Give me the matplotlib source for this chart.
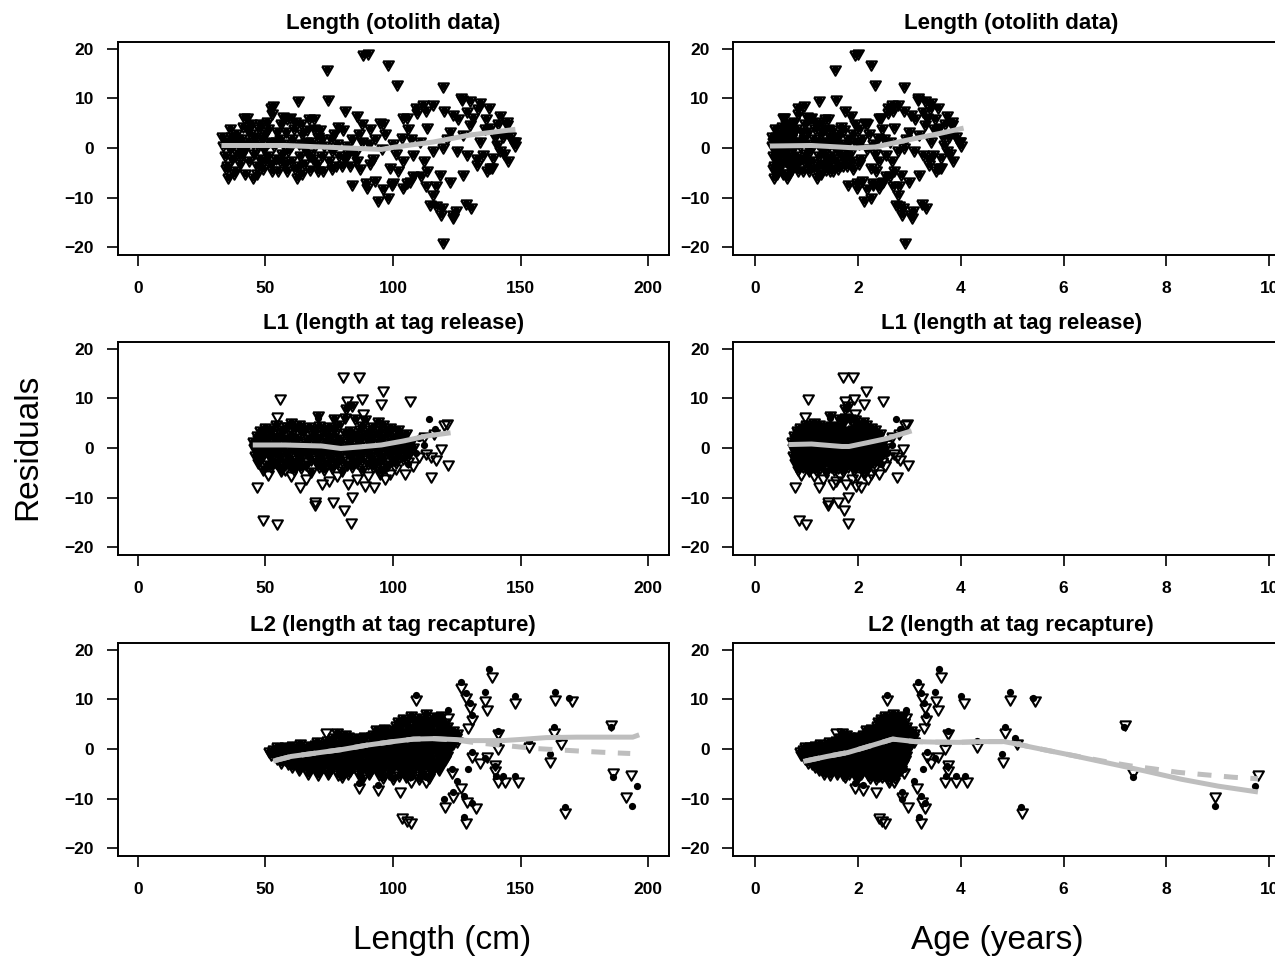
import matplotlib
matplotlib.use("Agg")
import matplotlib.pyplot as plt

plt.rcParams['font.family'] = ['Liberation Sans', 'DejaVu Sans']

# ---------------- row 1 : length (otolith data) ----------------
oto_len = [33, 33.5, 34, 34.5, 35, 35.4, 36, 36.5, 37, 37.5,
           38, 38.5, 39, 39.5, 40, 40.5, 41, 41.5, 41.7, 42,
           42.6, 43, 43.5, 44, 44.5, 45.2, 45.5, 46, 46.5, 47,
           47.5, 48, 48.5, 49, 49.5, 50, 50.5, 51, 51.5, 52,
           52.3, 52.5, 53, 53.5, 54, 54.5, 55, 55.5, 56, 56.5,
           57, 57.5, 58, 58.5, 59, 59.6, 60, 60.5, 61, 61.5,
           62.2, 62.9, 63, 63.5, 64, 64.5, 65, 65.5, 66.1, 66.5,
           67, 67.5, 68, 68.5, 69, 69.5, 70, 70.5, 71.4, 72,
           72.7, 73, 74, 74.6, 75, 75.5, 76, 77, 77.5, 78,
           79, 80.5, 81.2, 81, 82, 83, 83.8, 84, 85, 85.8,
           86.5, 87, 88, 88.4, 89.6, 89.7, 90, 90.5, 91, 92,
           93, 94, 94.9, 95.5, 96, 97, 98.2, 98.2, 98.8, 99.5,
           99.8, 100, 101.4, 102, 103.4, 104, 104, 104, 105.4, 105.6,
           106.7, 107, 108, 108, 109.2, 109.3, 110.6, 111.9, 112, 112.9,
           113, 113.2, 113.2, 114.5, 115.8, 115.8, 115.8, 117, 117, 118.4,
           118.7, 119.1, 119.7, 119.7, 119.7, 120, 121, 122.4, 122.4, 123.6,
           123.6, 123.7, 124.5, 125, 126.7, 126.9, 127.6, 127.6, 128.8, 128.9,
           130.2, 130.3, 130.5, 131.5, 132.8, 133.5, 134.1, 134.1, 135.4, 136,
           137, 137.5, 138, 138, 139, 139.3, 140.7, 141, 142, 142,
           143, 144.6, 144.8, 145, 146, 147.2, 147.7, 148]
oto_res = [2.5, 0.5, -1.5, 1.5, -3.5, -5.9, 0, 2.5, -2, 1,
           -4.5, 3, -1, 0.5, -3, 2, 4.5, -0.5, 6.3, -5,
           6.2, 1.5, -2.5, 3, 5, -5.9, -1, 2.5, -3.5, 0.5,
           4, -2, 2, -4, 0, 3, 5.5, -1.5, 1.5, -3,
           8.3, 7, 8.6, 0.5, -2, 3.5, -4.5, 2, 5, -1,
           1, -3, 3.5, 6, -0.5, 6.2, -2.5, 2, 4, -4,
           -5.9, 9.6, 1, -1.5, 5, 3, -3, 0, 3.9, -1,
           6, -4.2, 1.5, -2, 4, 0.5, -3, 2.5, 3.9, -1.5,
           -4.5, 0.5, 16, 9.9, -2.5, 2, -0.5, 3, -3.5, 1,
           -1.5, 3.9, 7.6, -2, 0.5, -3.5, -7.2, 2, -1, 6.6,
           3, -4, 5, 19, -6.9, -7.9, 19.2, 1, 4, -2,
           -6.5, -10.6, 5.2, 0, -8, 3, 17, -9.9, -3.9, -7.2,
           -6.9, 1, 12.9, -4.5, 2.2, 6.2, -7.9, -2.5, 6.2, -6.9,
           -6.6, 2, -1.2, -5.5, 8.3, 7.2, 1.5, 8.9, -2.5, 7.6,
           -7.5, -4.5, 4.2, -11.3, 8.9, -0.5, -9.2, -11.6, -7.5, -5.2,
           -13.3, -11.9, 12.6, 0.2, -19, 7.6, 2, -6.6, 3.5, 6.9,
           -13.3, -13.9, -12.6, -0.5, 10.3, 9.9, 2.9, -5.2, -11.2, -1.2,
           4.9, 9.6, -12, 6.2, -3.2, 8, 9.2, 1.5, -1.2, 4,
           -4.5, 8.3, 4.2, -3.9, -3.8, -1.9, 0.8, 5, 6.6, -0.5,
           2.5, 5.5, 4.9, -2.5, 2.5, 1.5, 1.5, 0.5]
oto_age = [0.33, 0.34, 0.35, 0.36, 0.37, 0.38, 0.40, 0.41, 0.42, 0.44,
           0.45, 0.46, 0.47, 0.49, 0.50, 0.51, 0.52, 0.54, 0.54, 0.55,
           0.56, 0.57, 0.58, 0.60, 0.61, 0.63, 0.63, 0.65, 0.66, 0.67,
           0.69, 0.70, 0.71, 0.72, 0.74, 0.75, 0.77, 0.79, 0.80, 0.82,
           0.83, 0.84, 0.95, 0.88, 0.89, 0.91, 0.93, 0.95, 0.97, 0.99,
           1.01, 1.03, 1.04, 1.06, 1.08, 1.10, 1.12, 1.14, 1.16, 1.17,
           1.20, 1.24, 1.23, 1.25, 1.26, 1.28, 1.30, 1.32, 1.33, 1.35,
           1.36, 1.38, 1.39, 1.41, 1.42, 1.44, 1.45, 1.46, 1.49, 1.50,
           1.52, 1.53, 1.55, 1.57, 1.58, 1.59, 1.61, 1.64, 1.65, 1.66,
           1.69, 1.73, 1.75, 1.75, 1.77, 1.80, 1.82, 1.82, 1.85, 1.87,
           1.90, 1.91, 1.94, 1.95, 1.99, 1.99, 2.00, 2.02, 2.03, 2.06,
           2.09, 2.12, 2.15, 2.17, 2.18, 2.21, 2.25, 2.25, 2.26, 2.29,
           2.29, 2.30, 2.34, 2.36, 2.40, 2.42, 2.42, 2.42, 2.46, 2.47,
           2.50, 2.51, 2.54, 2.54, 2.58, 2.58, 2.62, 2.66, 2.66, 2.69,
           2.69, 2.70, 2.70, 2.74, 2.78, 2.78, 2.78, 2.81, 2.81, 2.85,
           2.86, 2.87, 2.89, 2.89, 2.92, 2.90, 2.94, 3.00, 3.00, 3.04,
           3.04, 3.05, 3.08, 3.10, 3.17, 3.18, 3.20, 3.20, 3.25, 3.26,
           3.31, 3.31, 3.32, 3.35, 3.38, 3.41, 3.42, 3.42, 3.47, 3.49,
           3.53, 3.55, 3.57, 3.57, 3.61, 3.62, 3.68, 3.69, 3.73, 3.73,
           3.77, 3.83, 3.84, 3.85, 3.90, 3.96, 3.98, 4.00]
# more fish inside the dense band
oto_fill_len = [34.5, 36, 37.5, 39, 40.5, 42, 43.5, 45, 46.5, 48,
                49.5, 51, 52.5, 54, 55.5, 57, 58.5, 60, 61.5, 63,
                64.5, 66, 67.5, 69, 70.5, 72, 76, 78.5, 80, 82.5,
                86, 88, 91, 93, 96, 101, 106, 111, 125.5, 129,
                133, 136.5, 140, 143.5]
oto_fill_res = [-4, 4, -5, 2, -1.5, 0.5, 4, 1, -5, 5,
                -2.5, 4, -4.5, 1.5, -2.5, 6.5, -4.5, 0.5, 5.5, -3.5,
                -5, 1.5, -1.5, 6, -4.5, 2, -4, 4.5, -3.5, -1,
                -2.5, 1.5, -3, 2, 5, -1, 4, -5.5, 6, 7.5,
                -2, 6, 2.5, -1]
oto_fill_age = [0.36, 0.40, 0.44, 0.47, 0.51, 0.55, 0.58, 0.62, 0.66, 0.70,
                0.74, 0.79, 0.84, 0.89, 0.95, 1.01, 1.06, 1.12, 1.17, 1.23,
                1.28, 1.33, 1.38, 1.42, 1.46, 1.50, 1.61, 1.68, 1.72, 1.78,
                1.88, 1.94, 2.03, 2.09, 2.18, 2.33, 2.48, 2.63, 3.12, 3.26,
                3.39, 3.51, 3.65, 3.79]

oto_fit_len = [33.7, 45, 57.7, 72, 86.7, 95.4, 101, 115.8, 130, 147]
oto_fit_len_res = [0.5, 0.5, 0.5, 0.2, -0.1, -0.3, 0.2, 1.2, 2.6, 3.7]
oto_fit_age = [0.34, 1.1, 1.98, 2.34, 2.92, 3.58, 4.01]
oto_fit_age_res = [0.4, 0.5, 0.0, 0.2, 1.5, 2.9, 3.9]

# ---------------- row 2 : L1 (length at tag release) ----------------
l1_core_len = [50, 54, 58.5, 63, 67, 71, 75, 79, 88, 92, 96, 99,
               70.5, 77, 81, 85, 89, 94, 81.5, 84, 60, 102,
               46.5, 49, 52.5, 56, 60, 64.5, 68.5, 73, 77, 81, 85, 89.5, 93.5, 97.5, 101.5, 105,
               45, 48, 51, 54.5, 58, 62, 66, 70, 74, 78, 82.5, 86.5, 90.5, 94.5, 98.5, 103, 107,
               45.5, 49.5, 53, 56.5, 60.5, 64, 68, 72, 76, 80, 84, 88, 92, 96, 100, 104, 108,
               46, 48.5, 52, 55.5, 59, 63, 67, 71, 75, 79, 83, 87, 91, 95, 99, 102.5, 106,
               47, 50.5, 54, 58, 62, 66, 70, 74, 78, 82, 86, 90, 94, 98, 101,
               49, 56, 61, 68, 73, 80, 88, 95]
l1_core_res = [4.3, 4.8, 4.4, 4.9, 4.5, 4.6, 4.4, 4.8, 4.7, 4.4, 4.9, 4.2,
               6.6, 6.0, 6.3, 6.1, 5.8, 5.5, 8.0, 8.6, 5.3, 3.8,
               2.7, 3.2, 2.9, 3.1, 2.8, 3.2, 2.9, 3.1, 2.8, 3.2, 2.9, 3.1, 2.8, 3.2, 2.9, 3.1,
               1.4, 1.7, 1.3, 1.6, 1.4, 1.7, 1.3, 1.6, 1.4, 1.7, 1.3, 1.6, 1.4, 1.7, 1.3, 1.6, 1.4,
               0.1, -0.2, 0.2, -0.1, 0.2, -0.2, 0.1, -0.2, 0.2, -0.1, 0.1, -0.2, 0.2, -0.1, 0.2, -0.1, 0.1,
               -1.4, -1.7, -1.3, -1.6, -1.4, -1.7, -1.3, -1.6, -1.4, -1.7, -1.3, -1.6, -1.4, -1.7, -1.3, -1.6, -1.4,
               -2.9, -3.2, -2.8, -3.1, -2.9, -3.2, -2.8, -3.1, -2.9, -3.2, -2.8, -3.1, -2.9, -3.2, -2.8,
               -4.2, -4.5, -4.3, -4.6, -4.2, -4.5, -4.3, -4.4]
l1_core_age = [0.87, 0.99, 1.11, 1.24, 1.36, 1.48, 1.58, 1.69, 1.95, 2.04, 2.16, 2.25,
               1.46, 1.64, 1.75, 1.85, 1.95, 2.10, 1.76, 1.82, 1.15, 2.34,
               0.77, 0.84, 0.95, 1.05, 1.15, 1.29, 1.41, 1.53, 1.64, 1.75, 1.85, 1.97, 2.09, 2.21, 2.33, 2.43,
               0.72, 0.81, 0.90, 1.00, 1.10, 1.21, 1.33, 1.45, 1.55, 1.66, 1.79, 1.89, 2.00, 2.12, 2.24, 2.37, 2.50,
               0.74, 0.86, 0.96, 1.06, 1.17, 1.27, 1.39, 1.50, 1.61, 1.72, 1.82, 1.93, 2.04, 2.16, 2.28, 2.40, 2.53,
               0.75, 0.83, 0.93, 1.03, 1.12, 1.24, 1.36, 1.48, 1.58, 1.69, 1.80, 1.90, 2.01, 2.13, 2.25, 2.36, 2.46,
               0.78, 0.89, 0.99, 1.10, 1.21, 1.33, 1.45, 1.55, 1.66, 1.77, 1.88, 1.98, 2.10, 2.22, 2.31,
               0.84, 1.05, 1.18, 1.39, 1.53, 1.72, 1.93, 2.13]
l1_fill_len = [48, 52, 56.5, 61, 65, 69, 73, 77, 83, 87, 91, 95, 99,
               47, 50.5, 54, 58, 62, 66.5, 70.5, 75, 79, 83, 87.5, 91.5, 95.5, 99.5, 103.5,
               47.5, 51, 55, 58.5, 62.5, 66.5, 70, 74, 78, 82, 86, 90, 94, 98, 102, 106,
               47, 51, 55, 58.5, 62, 66, 70, 74, 78, 82, 86, 90, 94, 98, 102, 106,
               48, 52, 56, 60, 64, 68, 72, 76, 80, 84, 88, 92, 96, 100, 104,
               52, 56, 60, 64, 71, 76, 84, 92, 97]
l1_fill_res = [3.7, 3.9, 3.8, 4.0, 3.7, 3.9, 3.8, 4.0, 3.7, 3.9, 3.8, 3.6, 3.7,
               2.1, 2.3, 2.2, 2.0, 2.3, 2.1, 2.2, 2.4, 2.1, 2.3, 2.2, 2.0, 2.3, 2.1, 2.2,
               0.8, 0.7, 0.9, 0.8, 0.6, 0.9, 0.7, 0.8, 0.9, 0.7, 0.8, 0.6, 0.9, 0.8, 0.7, 0.9,
               -0.7, -0.8, -0.6, -0.9, -0.7, -0.8, -0.6, -0.7, -0.9, -0.7, -0.8, -0.6, -0.7, -0.8, -0.6, -0.7,
               -2.2, -2.1, -2.3, -2.2, -2.0, -2.3, -2.1, -2.2, -2.4, -2.1, -2.2, -2.3, -2.1, -2.2, -2.0,
               -3.6, -3.8, -3.7, -3.9, -3.6, -3.8, -3.7, -3.6, -3.8]
l1_fill_age = [0.81, 0.93, 1.06, 1.18, 1.30, 1.42, 1.53, 1.64, 1.80, 1.90, 2.01, 2.13, 2.25,
               0.78, 0.89, 0.99, 1.10, 1.21, 1.35, 1.46, 1.58, 1.69, 1.80, 1.92, 2.02, 2.15, 2.27, 2.39,
               0.80, 0.90, 1.02, 1.11, 1.22, 1.35, 1.45, 1.55, 1.66, 1.77, 1.88, 1.98, 2.10, 2.22, 2.34, 2.46,
               0.78, 0.90, 1.02, 1.11, 1.21, 1.33, 1.45, 1.55, 1.66, 1.77, 1.88, 1.98, 2.10, 2.22, 2.34, 2.46,
               0.81, 0.93, 1.05, 1.15, 1.27, 1.39, 1.50, 1.61, 1.72, 1.82, 1.93, 2.04, 2.16, 2.28, 2.40,
               0.93, 1.05, 1.15, 1.27, 1.48, 1.61, 1.82, 2.04, 2.19]

l1_tri_len = [80.5, 86.7, 55.8, 95.9, 81.9, 87.7, 95.4, 106.8, 54.5, 56.2,
              88.2, 119.8, 118.7, 114.8, 117, 121.6, 114.8, 104.6, 46.8, 49,
              54.5, 63.5, 69.3, 69.6, 76.5, 80.9, 83.5, 83.8, 89.2, 92.5,
              99, 94.7, 82.4, 72.2, 57.7, 51, 113, 110, 106, 60,
              66, 75, 78, 86, 90, 97, 101, 108, 112, 116, 121]
l1_tri_res = [14.6, 14.5, 10, 11.8, 9.7, 10, 9, 9.6, 6.4, 4.4,
              7, 4.8, 0, -1.6, -2.3, -3.2, -5.6, -5, -7.7, -14.4,
              -15.2, -7.7, -10.7, -11.3, -10.7, -12.3, -14.9, -9.7, -7.5, -7.7,
              -5, -5, -7, -7, -4.3, -5.3, -1, -1.6, -2.6, -5.5,
              -6, -6.5, -5.5, -6, -5.5, -6, -4, -3.5, 2.5, 3, 5]
l1_tri_age = [1.72, 1.90, 1.03, 2.16, 1.75, 1.92, 2.13, 2.50, 0.98, 1.03,
              1.95, 2.92, 2.88, 2.76, 2.82, 2.98, 2.76, 2.42, 0.78, 0.85,
              1.00, 1.25, 1.42, 1.43, 1.62, 1.73, 1.81, 1.82, 1.97, 2.07,
              2.26, 2.12, 1.78, 1.51, 1.06, 0.90, 2.70, 2.60, 2.47, 1.15,
              1.33, 1.58, 1.66, 1.88, 1.98, 2.19, 2.31, 2.53, 2.67, 2.80, 2.95]

l1_dot_len = [70.7, 114.3, 51, 64, 106, 116.5, 110, 112, 109]
l1_dot_res = [6.1, 5.8, 3.8, 4.4, -3.3, 3.8, 2, 0.5, -1]
l1_dot_age = [1.47, 2.75, 0.90, 1.27, 2.46, 2.82, 2.60, 2.67, 2.57]

l1_fit_len = [46, 57.7, 72, 79.5, 86.7, 95.4, 104, 113, 121.6]
l1_fit_len_res = [0.6, 0.6, 0.4, -0.1, 0.2, 0.6, 1.4, 2.4, 3.0]
l1_fit_age = [0.7, 1.1, 1.69, 1.83, 2.2, 2.56, 3.0]
l1_fit_age_res = [0.7, 0.8, 0.3, 0.3, 1.1, 1.9, 3.3]

# ---------------- row 3 : L2 (length at tag recapture) ----------------
l2_core_len = [104, 107, 110, 113, 116, 119,
               101, 103, 106, 109, 112, 115, 118, 121,
               78, 81, 92, 95, 98, 101, 104, 107, 110, 113, 116, 119, 122, 125,
               70, 74, 77, 80, 83, 86, 89, 92, 95, 98, 101, 104, 107, 110, 113, 116, 119, 122, 125,
               53, 56, 59, 62, 65, 68, 71, 74, 77, 80, 83, 86, 89, 92, 95, 98, 101, 104, 107, 110, 113, 116, 119, 122,
               52, 55, 58, 61, 64, 67, 70, 73, 76, 79, 82, 85, 88, 91, 94, 97, 100, 103, 106, 109, 112, 115, 118, 121,
               56, 59, 62, 65, 68, 71, 74, 77, 80, 83, 86, 89, 92, 95, 98, 101, 104, 107, 110, 113, 116, 119,
               63, 67, 71, 75, 79, 83, 87, 91, 95, 99, 103, 107, 111, 115, 118,
               80, 88, 96, 100, 105, 110, 114]
l2_core_res = [6.3, 6.8, 6.5, 7.2, 6.6, 6.9,
               4.8, 5.2, 4.9, 5.3, 4.8, 5.1, 4.9, 4.6,
               3.4, 3.0, 3.1, 3.4, 3.2, 3.5, 3.2, 3.4, 3.1, 3.5, 3.2, 3.4, 3.1, 3.3,
               1.6, 1.9, 1.7, 2.0, 1.6, 1.9, 1.7, 2.0, 1.6, 1.9, 1.7, 2.0, 1.6, 1.9, 1.7, 2.0, 1.6, 1.9, 1.7,
               0.0, 0.4, 0.1, 0.5, 0.2, 0.6, 0.3, 0.5, 0.2, 0.4, 0.1, 0.5, 0.2, 0.4, 0.1, 0.5, 0.2, 0.4, 0.1, 0.5, 0.2, 0.4, 0.1, 0.3,
               -1.1, -1.4, -1.0, -1.3, -1.1, -1.4, -1.0, -1.3, -1.1, -1.4, -1.0, -1.3, -1.1, -1.4, -1.0, -1.3, -1.1, -1.4, -1.0, -1.3, -1.1, -1.4, -1.0, -1.3,
               -2.6, -2.9, -2.5, -2.8, -2.6, -2.9, -2.5, -2.8, -2.6, -2.9, -2.5, -2.8, -2.6, -2.9, -2.5, -2.8, -2.6, -2.9, -2.5, -2.8, -2.6, -2.9,
               -4.0, -4.3, -4.1, -4.4, -4.0, -4.3, -4.1, -4.4, -4.0, -4.3, -4.1, -4.4, -4.0, -4.3, -4.1,
               -5.5, -5.8, -5.6, -5.9, -5.5, -5.8, -5.6]
l2_core_age = [2.45, 2.53, 2.60, 2.69, 2.78, 2.87,
               2.38, 2.43, 2.50, 2.58, 2.66, 2.75, 2.84, 2.94,
               1.69, 1.78, 2.11, 2.20, 2.29, 2.38, 2.45, 2.53, 2.60, 2.69, 2.78, 2.87, 2.98, 3.10,
               1.45, 1.57, 1.66, 1.75, 1.84, 1.93, 2.02, 2.11, 2.20, 2.29, 2.38, 2.45, 2.53, 2.60, 2.69, 2.78, 2.87, 2.98, 3.10,
               0.93, 1.03, 1.12, 1.21, 1.30, 1.39, 1.48, 1.57, 1.66, 1.75, 1.84, 1.93, 2.02, 2.11, 2.20, 2.29, 2.38, 2.45, 2.53, 2.60, 2.69, 2.78, 2.87, 2.98,
               0.90, 1.00, 1.09, 1.18, 1.27, 1.36, 1.45, 1.54, 1.63, 1.72, 1.81, 1.90, 1.99, 2.08, 2.17, 2.26, 2.35, 2.43, 2.50, 2.58, 2.66, 2.75, 2.84, 2.94,
               1.03, 1.12, 1.21, 1.30, 1.39, 1.48, 1.57, 1.66, 1.75, 1.84, 1.93, 2.02, 2.11, 2.20, 2.29, 2.38, 2.45, 2.53, 2.60, 2.69, 2.78, 2.87,
               1.24, 1.36, 1.48, 1.60, 1.72, 1.84, 1.96, 2.08, 2.20, 2.32, 2.43, 2.53, 2.63, 2.75, 2.84,
               1.75, 1.99, 2.23, 2.35, 2.48, 2.60, 2.72]
l2_fill_len = [102, 105.5, 108.5, 111.5, 114.5, 117.5, 120,
               93.5, 96.5, 99.5, 102.5, 105.5, 108.5, 111.5, 114.5, 117.5, 120.5, 123.5,
               76.5, 79.5, 82.5, 85.5, 88.5, 91.5, 94.5, 97.5, 100.5, 103.5, 106.5, 109.5, 112.5, 115.5, 118.5, 121.5, 124.5,
               54.5, 57.5, 60.5, 63.5, 66.5, 69.5, 72.5, 75.5, 78.5, 81.5, 84.5, 87.5, 90.5, 93.5, 96.5, 99.5, 102.5, 105.5, 108.5, 111.5, 114.5, 117.5, 120.5, 123.5,
               51.5, 54.5, 57.5, 60.5, 63.5, 66.5, 69.5, 72.5, 75.5, 78.5, 81.5, 84.5, 87.5, 90.5, 93.5, 96.5, 99.5, 102.5, 105.5, 108.5, 111.5, 114.5, 117.5, 120.5,
               54.5, 57.5, 60.5, 63.5, 66.5, 69.5, 72.5, 75.5, 78.5, 81.5, 84.5, 87.5, 90.5, 93.5, 96.5, 99.5, 102.5, 105.5, 108.5, 111.5, 114.5, 117.5, 120.5,
               60.5, 63.5, 66.5, 69.5, 72.5, 75.5, 78.5, 81.5, 84.5, 87.5, 90.5, 93.5, 96.5, 99.5, 102.5, 105.5, 108.5, 111.5, 114.5, 117.5,
               66.5, 70.5, 74.5, 78.5, 82.5, 86.5, 90.5, 94.5, 98.5, 102.5, 106.5, 110.5, 114.5]
l2_fill_res = [5.7, 5.9, 5.6, 6.0, 5.8, 5.7, 5.5,
               4.0, 4.2, 4.1, 4.3, 4.0, 4.2, 4.1, 4.3, 4.0, 4.2, 3.9,
               2.5, 2.7, 2.6, 2.4, 2.6, 2.7, 2.5, 2.6, 2.7, 2.5, 2.6, 2.4, 2.7, 2.5, 2.6, 2.7, 2.5,
               0.6, 0.7, 0.8, 1.2, 0.9, 1.1, 1.0, 1.2, 0.9, 1.1, 1.0, 1.2, 0.9, 1.1, 1.0, 1.2, 0.9, 1.1, 1.0, 1.2, 0.9, 1.1, 1.0, 1.2,
               -0.4, -0.6, -0.5, -0.7, -0.4, -0.6, -0.5, -0.7, -0.4, -0.6, -0.5, -0.7, -0.4, -0.6, -0.5, -0.7, -0.4, -0.6, -0.5, -0.7, -0.4, -0.6, -0.5, -0.7,
               -1.9, -2.1, -2.0, -2.2, -1.9, -2.1, -2.0, -2.2, -1.9, -2.1, -2.0, -2.2, -1.9, -2.1, -2.0, -2.2, -1.9, -2.1, -2.0, -2.2, -1.9, -2.1, -2.0,
               -3.4, -3.6, -3.5, -3.7, -3.4, -3.6, -3.5, -3.7, -3.4, -3.6, -3.5, -3.7, -3.4, -3.6, -3.5, -3.7, -3.4, -3.6, -3.5, -3.7,
               -4.8, -5.0, -4.9, -5.1, -4.8, -5.0, -4.9, -5.1, -4.8, -5.2, -5.0, -5.3, -5.1]
l2_fill_age = [2.40, 2.49, 2.56, 2.65, 2.74, 2.83, 2.90,
               2.16, 2.25, 2.34, 2.41, 2.49, 2.56, 2.65, 2.74, 2.83, 2.92, 3.04,
               1.65, 1.74, 1.83, 1.92, 2.01, 2.10, 2.19, 2.28, 2.36, 2.44, 2.51, 2.59, 2.68, 2.77, 2.86, 2.96, 3.08,
               0.98, 1.08, 1.17, 1.26, 1.35, 1.44, 1.53, 1.62, 1.71, 1.80, 1.89, 1.98, 2.07, 2.16, 2.25, 2.34, 2.41, 2.49, 2.56, 2.65, 2.74, 2.83, 2.92, 3.04,
               0.88, 0.98, 1.08, 1.17, 1.26, 1.35, 1.44, 1.53, 1.62, 1.71, 1.80, 1.89, 1.98, 2.07, 2.16, 2.25, 2.34, 2.41, 2.49, 2.56, 2.65, 2.74, 2.83, 2.92,
               0.98, 1.08, 1.17, 1.26, 1.35, 1.44, 1.53, 1.62, 1.71, 1.80, 1.89, 1.98, 2.07, 2.16, 2.25, 2.34, 2.41, 2.49, 2.56, 2.65, 2.74, 2.83, 2.92,
               1.17, 1.26, 1.35, 1.44, 1.53, 1.62, 1.71, 1.80, 1.89, 1.98, 2.07, 2.16, 2.25, 2.34, 2.41, 2.49, 2.56, 2.65, 2.74, 2.83,
               1.35, 1.47, 1.59, 1.71, 1.83, 1.95, 2.07, 2.19, 2.31, 2.41, 2.51, 2.62, 2.74]

l2_tri_len = [109.2, 139, 126.7, 128.5, 130, 131, 129.5, 136, 136.8, 121.6,
              147.7, 163.7, 170.2, 185.5, 163, 165.9, 153.5, 161.5, 141, 141,
              131, 134, 137, 140, 141, 144, 149, 186.2, 193.5, 191.3,
              167.3, 128.5, 103.4, 105.5, 107, 120.5, 123.7, 126.6, 129, 132.5,
              123, 86.7, 94, 102.7, 107, 112.8, 73.6, 140]
l2_tri_res = [10.1, 14.8, 12.5, 10.5, 8.5, 6, 4.5, 9.8, 8.1, 6.4,
              9.4, 10.1, 9.8, 5.0, 3.4, 1.3, 0.7, -2.4, 3.2, 0.3,
              -1.5, -2.7, -1.5, -4.2, -6.4, -6.4, -6.4, -4.7, -5, -9.4,
              -12.8, -14.8, -13.8, -14.3, -14.8, -11.5, -9.4, -7.7, -10.5, -11.8,
              -4.7, -7.7, -8.1, -8.4, -6.4, -6.4, 3.4, -3.0]
l2_tri_age = [2.57, 3.62, 3.17, 3.25, 3.3, 3.33, 3.28, 3.52, 3.56, 2.93,
              4.06, 4.95, 5.45, 7.2, 4.87, 5.1, 4.32, 4.82, 3.76, 3.7,
              3.35, 3.42, 3.55, 3.76, 3.7, 3.9, 4.12, 7.35, 9.78, 8.95,
              5.19, 3.22, 2.42, 2.47, 2.52, 2.97, 2.86, 3.15, 3.25, 3.3,
              2.9, 1.95, 2.1, 2.35, 2.6, 2.7, 1.58, 3.76]

l2_dot_len = [109.2, 137.5, 126.7, 128.5, 130, 131, 136, 121.6, 147.7, 163.7,
              169, 185.5, 163, 165, 153.5, 161.5, 141, 141, 131, 136,
              140, 140.5, 143, 147.7, 186.2, 195.6, 193.8, 167.3, 128, 120,
              123.7, 125, 128, 131, 123, 129.5, 86.7, 94, 107, 112.8]
l2_dot_res = [10.9, 16.2, 13.5, 11.3, 9.3, 6.8, 11.5, 7.8, 10.8, 11.5,
              10.2, 4.4, 4.4, 2.2, 1.7, -1, 3.7, 1.3, -0.7, -1.8,
              -3.4, -5.4, -5.4, -5.4, -5.7, -7.4, -11.6, -11.8, -13.8, -10.1,
              -8.6, -6.4, -9.4, -10.8, -4, -4, -6.9, -7.3, -5.6, -5.6]
l2_dot_age = [2.57, 3.58, 3.17, 3.22, 3.28, 3.33, 3.5, 2.93, 4.01, 4.95,
              5.4, 7.18, 4.87, 5.05, 4.32, 4.8, 3.76, 3.7, 3.35, 3.5,
              3.74, 3.72, 3.9, 4.08, 7.35, 9.73, 8.95, 5.17, 3.2, 2.86,
              2.86, 3.1, 3.22, 3.3, 2.9, 3.27, 1.95, 2.1, 2.55, 2.7]

l2_fit_len = [54, 60, 70, 80, 90, 100, 108, 116, 125, 130, 143, 152, 160, 172, 194, 195.6]
l2_fit_len_res = [-2.3, -1.5, -0.8, -0.1, 0.8, 1.5, 2.0, 2.1, 1.9, 1.7, 1.7, 2.0, 2.3, 2.4, 2.4, 2.7]
l2_fit2_len = [54, 60, 70, 80, 90, 100, 108, 116, 125, 132, 140, 148, 156, 166, 176, 188, 193]
l2_fit2_len_res = [-2.3, -1.5, -0.8, -0.1, 0.8, 1.5, 2.0, 2.1, 1.8, 1.3, 0.9, 0.5, 0.1, -0.2, -0.5, -0.8, -0.9]
l2_fit_age = [0.99, 1.4, 1.81, 2.2, 2.68, 3.11, 3.5, 3.97, 4.4, 4.84, 5.1, 5.41, 6.13, 6.85, 7.57, 8.29, 9.01, 9.73]
l2_fit_age_res = [-2.4, -1.5, -0.7, 0.5, 2.0, 1.5, 1.4, 1.35, 1.5, 1.5, 1.0, 0.3, -1.2, -2.8, -4.4, -6.1, -7.5, -8.6]
l2_fit2_age = [0.99, 1.4, 1.81, 2.2, 2.68, 3.11, 3.5, 3.97, 4.4, 4.84, 5.1, 5.41, 6.13, 6.85, 7.3, 7.75, 8.22, 8.76, 9.3, 9.78]
l2_fit2_age_res = [-2.4, -1.5, -0.7, 0.5, 2.0, 1.5, 1.4, 1.35, 1.5, 1.5, 1.0, 0.3, -1.2, -2.6, -3.4, -4.0, -4.7, -5.2, -5.7, -6.0]

titles = ['Length (otolith data)', 'L1 (length at tag release)', 'L2 (length at tag recapture)']

GREY = '#bebebe'
# R-like pch 6: equilateral, point-down triangle
TRI = [(-1, 0.577), (1, 0.577), (0, -1.155), (-1, 0.577)]


def setup(ax, title, xlim, xticks):
    ax.set_xlim(*xlim)
    ax.set_ylim(-21.6, 21.4)
    ax.set_xticks(xticks)
    ax.set_yticks([-20, -10, 0, 10, 20])
    ax.tick_params(direction='out', length=8, width=1.2, labelsize=12.5)
    ax.tick_params(axis='x', pad=11)
    ax.tick_params(axis='y', pad=9)
    for lab in ax.get_xticklabels() + ax.get_yticklabels():
        lab.set_fontweight('bold')
    for s in ax.spines.values():
        s.set_linewidth(1.4)
    ax.set_title(title, fontsize=16, fontweight='bold', pad=9)


def tri(ax, x, y):
    ax.plot(x, y, ls='none', marker=TRI, ms=9, mfc='none', mec='black', mew=1.5)


def dot(ax, x, y):
    ax.plot(x, y, ls='none', marker='o', ms=5.2, mfc='black', mec='black', mew=0)


def both(ax, x, y):
    dot(ax, x, y)
    tri(ax, x, y)


def fit(ax, x, y, dashed=False):
    if dashed:
        ax.plot(x, y, color=GREY, lw=3.6, dashes=(2.8, 2.5), solid_capstyle='butt')
    else:
        ax.plot(x, y, color=GREY, lw=3.6)


fig = plt.figure(figsize=(12.75, 9.6), dpi=100)

bottoms = [0.7344, 0.4219, 0.1083]
h = 0.2219
axes = []
for b in bottoms:
    axl = fig.add_axes([0.0922, b, 0.4325, h])
    axr = fig.add_axes([0.5751, b, 0.4358, h])
    axes.append((axl, axr))

# row 1 (both residual series coincide for the otolith data)
axl, axr = axes[0]
both(axl, oto_len, oto_res)
both(axl, oto_fill_len, oto_fill_res)
fit(axl, oto_fit_len, oto_fit_len_res)
both(axr, oto_age, oto_res)
both(axr, oto_fill_age, oto_fill_res)
fit(axr, oto_fit_age, oto_fit_age_res)

# row 2
axl, axr = axes[1]
both(axl, l1_core_len, l1_core_res)
both(axl, l1_fill_len, l1_fill_res)
tri(axl, l1_tri_len, l1_tri_res)
dot(axl, l1_dot_len, l1_dot_res)
fit(axl, l1_fit_len, l1_fit_len_res)
both(axr, l1_core_age, l1_core_res)
both(axr, l1_fill_age, l1_fill_res)
tri(axr, l1_tri_age, l1_tri_res)
dot(axr, l1_dot_age, l1_dot_res)
fit(axr, l1_fit_age, l1_fit_age_res)

# row 3
axl, axr = axes[2]
both(axl, l2_core_len, l2_core_res)
both(axl, l2_fill_len, l2_fill_res)
tri(axl, l2_tri_len, l2_tri_res)
dot(axl, l2_dot_len, l2_dot_res)
fit(axl, l2_fit_len, l2_fit_len_res)
fit(axl, l2_fit2_len, l2_fit2_len_res, dashed=True)
both(axr, l2_core_age, l2_core_res)
both(axr, l2_fill_age, l2_fill_res)
tri(axr, l2_tri_age, l2_tri_res)
dot(axr, l2_dot_age, l2_dot_res)
fit(axr, l2_fit_age, l2_fit_age_res)
fit(axr, l2_fit2_age, l2_fit2_age_res, dashed=True)

for (axl, axr), t in zip(axes, titles):
    setup(axl, t, (-8, 208.2), [0, 50, 100, 150, 200])
    setup(axr, t, (-0.42, 10.38), [0, 2, 4, 6, 8, 10])

fig.text(28 / 1275, 1 - 447 / 960, 'Residuals', rotation=90, fontsize=24, ha='center', va='center')
fig.text(442 / 1275, 1 - 940 / 960, 'Length (cm)', fontsize=24, ha='center', va='center')
fig.text(997 / 1275, 1 - 940 / 960, 'Age (years)', fontsize=24, ha='center', va='center')

fig.savefig('out.png', dpi=100)
